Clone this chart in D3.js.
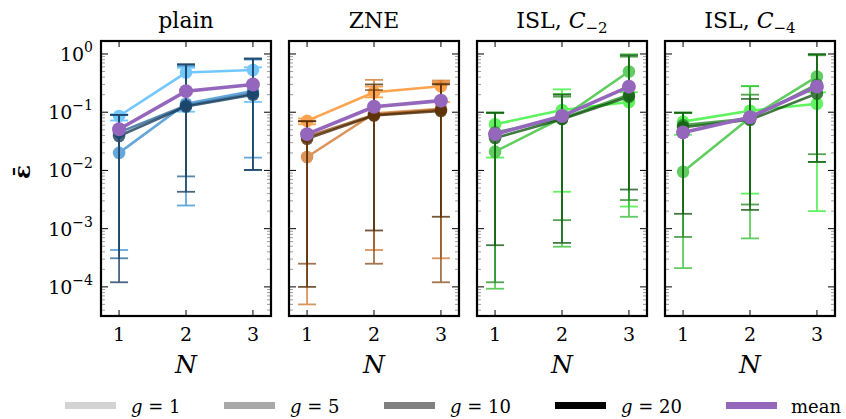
<!DOCTYPE html>
<html>
<head>
<meta charset="utf-8">
<script src="https://cdn.jsdelivr.net/npm/d3@7"></script>
<style>
  body { margin: 0; background: #fff; }
  text { font-family: "DejaVu Serif", serif; }
</style>
</head>
<body>
<div id="chart"></div>
<script>
// x values and series labels
const nValues = [1, 2, 3];
const gValues = [1, 5, 10, 20];
const yTickExps = [0, -1, -2, -3, -4];

// plain: rows are g = 1, 5, 10, 20
const plainVals = [[0.086, 0.48, 0.53], [0.020, 0.14, 0.23], [0.045, 0.13, 0.21], [0.039, 0.125, 0.20]];
const plainLow = [[0.072, 0.102, 0.15], [4.3e-4, 0.0025, 0.0166], [3.1e-4, 0.0079, 0.0102], [1.2e-4, 0.0043, 0.0102]];
const plainHigh = [[0.092, 0.58, 0.59], [0.09, 0.62, 0.80], [0.09, 0.65, 0.82], [0.09, 0.67, 0.84]];
const plainMean = [0.051, 0.23, 0.30];

// ZNE
const zneVals = [[0.071, 0.22, 0.28], [0.017, 0.095, 0.115], [0.038, 0.09, 0.11], [0.035, 0.088, 0.105]];
const zneLow = [[0.062, 0.18, 0.15], [5.0e-5, 4.3e-4, 3.1e-4], [2.5e-4, 2.5e-4, 1.2e-4], [1.0e-4, 9.3e-4, 1.6e-3]];
const zneHigh = [[0.078, 0.275, 0.33], [0.07, 0.36, 0.35], [0.07, 0.24, 0.31], [0.07, 0.30, 0.30]];
const zneMean = [0.042, 0.124, 0.158];

// ISL, C_-2
const islC2Vals = [[0.062, 0.109, 0.15], [0.021, 0.08, 0.50], [0.045, 0.078, 0.20], [0.036, 0.076, 0.185]];
const islC2Low = [[0.0166, 0.0043, 0.0024], [9.3e-5, 4.9e-4, 0.0016], [1.2e-4, 0.0014, 0.0031], [5.2e-4, 5.7e-4, 0.0047]];
const islC2High = [[0.098, 0.247, 0.22], [0.098, 0.206, 0.99], [0.098, 0.185, 0.90], [0.098, 0.20, 0.95]];
const islC2Mean = [0.042, 0.086, 0.275];

// ISL, C_-4
const islC4Vals = [[0.069, 0.106, 0.14], [0.0095, 0.08, 0.41], [0.06, 0.078, 0.30], [0.055, 0.074, 0.21]];
const islC4Low = [[0.041, 0.004, 0.002], [2.1e-4, 6.8e-4, 0.014], [7.2e-4, 0.0026, 0.019], [0.0018, 0.0021, 0.014]];
const islC4High = [[0.098, 0.28, 0.22], [0.098, 0.28, 0.99], [0.098, 0.20, 0.95], [0.098, 0.169, 0.99]];
const islC4Mean = [0.045, 0.082, 0.275];

const panels = [
  { title: ["plain"], vals: plainVals, low: plainLow, high: plainHigh, mean: plainMean,
    colors: ["#4db8ff", "#3a8fd0", "#2a6592", "#153a5c"] },
  { title: ["ZNE"], vals: zneVals, low: zneLow, high: zneHigh, mean: zneMean,
    colors: ["#ff8a1e", "#d0782e", "#8a4f1a", "#4d2800"] },
  { title: ["ISL, ", "C", "\u22122"], vals: islC2Vals, low: islC2Low, high: islC2High, mean: islC2Mean,
    colors: ["#33f033", "#35c035", "#238a23", "#0f560f"] },
  { title: ["ISL, ", "C", "\u22124"], vals: islC4Vals, low: islC4Low, high: islC4High, mean: islC4Mean,
    colors: ["#33f033", "#35c035", "#238a23", "#0f560f"] }
];

const legendColors = ["#d3d3d3", "#a9a9a9", "#808080", "#000000"];
const meanColor = "#9467bd";

const W = 846, H = 419;
const pw = 170, ph = 275, plotTop = 41;
const lefts = [101, 289, 477, 665];

const svg = d3.select("#chart").append("svg")
  .attr("width", W).attr("height", H);

const x = d3.scaleLinear().domain([0.73, 3.27]).range([0, pw]);
const y = d3.scaleLog().domain([Math.pow(10, -4.5), Math.pow(10, 0.223)]).range([ph, 0]);

const minorTicks = [];
for (let k = -5; k <= 0; k++) {
  for (let m = 2; m <= 9; m++) {
    const v = m * Math.pow(10, k);
    if (v > y.domain()[0] && v < y.domain()[1]) minorTicks.push(v);
  }
}
const majorTicks = yTickExps.map(e => Math.pow(10, e));

panels.forEach((p, pi) => {
  const g = svg.append("g").attr("transform", `translate(${lefts[pi]},${plotTop})`);

  // minor y ticks (left and right, inward)
  g.selectAll(".minor").data(minorTicks).join("g").each(function (d) {
    const s = d3.select(this);
    s.append("line").attr("x1", 0).attr("x2", 4).attr("y1", y(d)).attr("y2", y(d))
      .attr("stroke", "#777").attr("stroke-width", 0.7);
    s.append("line").attr("x1", pw - 4).attr("x2", pw).attr("y1", y(d)).attr("y2", y(d))
      .attr("stroke", "#777").attr("stroke-width", 0.7);
  });
  // major y ticks
  g.selectAll(".major").data(majorTicks).join("g").each(function (d) {
    const s = d3.select(this);
    s.append("line").attr("x1", 0).attr("x2", 7).attr("y1", y(d)).attr("y2", y(d))
      .attr("stroke", "#000").attr("stroke-width", 1);
    s.append("line").attr("x1", pw - 7).attr("x2", pw).attr("y1", y(d)).attr("y2", y(d))
      .attr("stroke", "#000").attr("stroke-width", 1);
  });
  // x ticks top and bottom
  g.selectAll(".xt").data(nValues).join("g").each(function (d) {
    const s = d3.select(this);
    s.append("line").attr("x1", x(d)).attr("x2", x(d)).attr("y1", ph).attr("y2", ph - 6)
      .attr("stroke", "#000").attr("stroke-width", 1);
    s.append("line").attr("x1", x(d)).attr("x2", x(d)).attr("y1", 0).attr("y2", 6)
      .attr("stroke", "#000").attr("stroke-width", 1);
  });

  // x tick labels
  g.selectAll(".xl").data(nValues).join("text")
    .attr("x", d => x(d)).attr("y", ph + 25)
    .attr("text-anchor", "middle").style("font-size", "19px")
    .text(d => d);

  // x label
  g.append("text").attr("x", pw / 2).attr("y", ph + 57)
    .attr("text-anchor", "middle").style("font-size", "25px").style("font-style", "italic")
    .text("N");

  // title
  const t = g.append("text").attr("x", pw / 2).attr("y", -13)
    .attr("text-anchor", "middle").style("font-size", "22px");
  t.append("tspan").text(p.title[0]);
  if (p.title.length > 1) {
    t.append("tspan").style("font-style", "italic").text(p.title[1]);
    t.append("tspan").attr("dy", 5).style("font-size", "15px").text(p.title[2]);
  }

  // series
  const line = d3.line().x((d, i) => x(nValues[i])).y(d => y(d));
  p.vals.forEach((vals, si) => {
    const c = p.colors[si];
    const sg = g.append("g").attr("opacity", 0.78);
    nValues.forEach((n, i) => {
      const lo = p.low[si][i], hi = p.high[si][i];
      sg.append("line").attr("x1", x(n)).attr("x2", x(n)).attr("y1", y(lo)).attr("y2", y(hi))
        .attr("stroke", c).attr("stroke-width", 1.8);
      [lo, hi].forEach(v => {
        sg.append("line").attr("x1", x(n) - 9).attr("x2", x(n) + 9).attr("y1", y(v)).attr("y2", y(v))
          .attr("stroke", c).attr("stroke-width", 1.8);
      });
    });
    sg.append("path").datum(vals).attr("d", line)
      .attr("fill", "none").attr("stroke", c).attr("stroke-width", 2.6);
    sg.selectAll("circle").data(vals).join("circle")
      .attr("cx", (d, i) => x(nValues[i])).attr("cy", d => y(d)).attr("r", 6.3)
      .attr("fill", c);
  });

  // mean
  g.append("path").datum(p.mean).attr("d", line)
    .attr("fill", "none").attr("stroke", meanColor).attr("stroke-width", 3.6);
  g.selectAll(".mean").data(p.mean).join("circle")
    .attr("cx", (d, i) => x(nValues[i])).attr("cy", d => y(d)).attr("r", 7)
    .attr("fill", meanColor);

  // frame
  g.append("rect").attr("x", 0).attr("y", 0).attr("width", pw).attr("height", ph)
    .attr("fill", "none").attr("stroke", "#000").attr("stroke-width", 2.2);

  // y tick labels only on first panel
  if (pi === 0) {
    yTickExps.forEach(e => {
      const tt = g.append("text").attr("x", -8).attr("y", y(Math.pow(10, e)) + 7)
        .attr("text-anchor", "end").style("font-size", "19px");
      tt.append("tspan").text("10");
      tt.append("tspan").attr("dy", -9).style("font-size", "14px")
        .text(e === 0 ? "0" : "\u2212" + (-e));
    });
  }
});

// y label
svg.append("text")
  .attr("transform", "translate(30,172) rotate(-90)")
  .attr("text-anchor", "middle")
  .style("font-size", "23px").style("font-weight", "bold")
  .text("\u03B5\u0304");

// legend
const legendX = [65, 224, 384, 555];
gValues.forEach((gv, i) => {
  svg.append("rect").attr("x", legendX[i]).attr("y", 402).attr("width", 51).attr("height", 7)
    .attr("fill", legendColors[i]);
  const t = svg.append("text").attr("x", legendX[i] + 66).attr("y", 413).style("font-size", "18px");
  t.append("tspan").style("font-style", "italic").text("g");
  t.append("tspan").text(" = " + gv);
});
svg.append("rect").attr("x", 726).attr("y", 402).attr("width", 51).attr("height", 7)
  .attr("fill", meanColor);
svg.append("text").attr("x", 791).attr("y", 413).style("font-size", "18px").text("mean");
</script>
</body>
</html>
